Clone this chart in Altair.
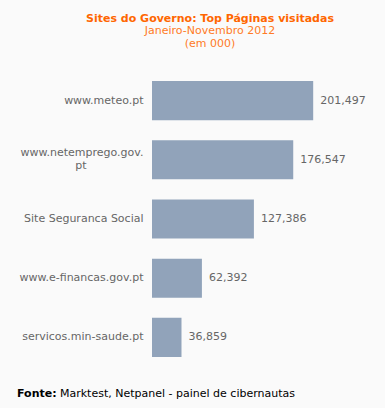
import altair as alt
import pandas as pd

sites = ["www.meteo.pt", "www.netemprego.gov.pt", "Site Seguranca Social",
         "www.e-financas.gov.pt", "servicos.min-saude.pt"]
visits = [201497, 176547, 127386, 62392, 36859]

wrapped_site = "www.netemprego.gov.pt"
wrapped_first = "www.netemprego.gov."
wrapped_second = "pt"

title_text = "Sites do Governo: Top Páginas visitadas"
subtitle_lines = ["Janeiro-Novembro 2012", "(em 000)"]
source_bold = "Fonte:"
source_text = "Marktest, Netpanel - painel de cibernautas"

df = pd.DataFrame({"site": sites, "visits": visits})

FONT = "DejaVu Sans"

label_expr = f"datum.value == '{wrapped_site}' ? '{wrapped_first}' : datum.label"

base = alt.Chart(df).encode(
    y=alt.Y("site:N", sort=sites,
            scale=alt.Scale(paddingInner=0.34, paddingOuter=0.17),
            axis=alt.Axis(title=None, domain=False, ticks=False, tickSize=0,
                          labelPadding=9, labelFont=FONT, labelFontSize=11,
                          labelColor="#666666", labelLimit=200,
                          labelExpr=label_expr,
                          labelOffset={"condition": {
                              "test": f"datum.value == '{wrapped_site}'",
                              "value": -6.5}, "value": 0})),
)

bars = base.mark_bar(color="#91a3ba").encode(
    x=alt.X("visits:Q", scale=alt.Scale(domain=[0, 250000], nice=False),
            axis=None)
)

values = base.mark_text(align="left", baseline="middle", dx=7, font=FONT,
                        fontSize=11, color="#666666").encode(
    x=alt.X("visits:Q"),
    text=alt.Text("visits:Q", format=",")
)

second_line = base.transform_filter(
    alt.datum.site == wrapped_site
).transform_calculate(
    line2=f"'{wrapped_second}'"
).mark_text(align="center", baseline="middle", dy=6.5, font=FONT,
            fontSize=11, color="#666666").encode(
    x=alt.value(-71), text="line2:N"
)

src_df = pd.DataFrame({"bold": [source_bold], "txt": [source_text]})
src_bold = alt.Chart(src_df).mark_text(
    align="left", baseline="middle", font=FONT, fontSize=11,
    fontWeight="bold", color="#000000"
).encode(x=alt.value(-135), y=alt.value(323), text="bold:N")
src_txt = alt.Chart(src_df).mark_text(
    align="left", baseline="middle", font=FONT, fontSize=11, color="#000000"
).encode(x=alt.value(-92), y=alt.value(323), text="txt:N")

chart = alt.layer(bars, values, second_line, src_bold, src_txt).properties(
    width=200, height=296,
    title=alt.TitleParams(
        text=title_text, subtitle=subtitle_lines,
        font=FONT, fontSize=11, fontWeight="bold", color="#ff6600",
        subtitleFont=FONT, subtitleFontSize=11, subtitleColor="#ff7a26",
        subtitleLineHeight=13, subtitlePadding=1,
        anchor="middle", dx=-42, offset=22
    ),
    autosize=alt.AutoSizeParams(type="none"),
    padding={"left": 152, "top": 71, "right": 33, "bottom": 41},
    background="#fafafa"
).configure_view(stroke=None)

chart.save("out.html", embed_options={"renderer": "svg", "actions": False})
